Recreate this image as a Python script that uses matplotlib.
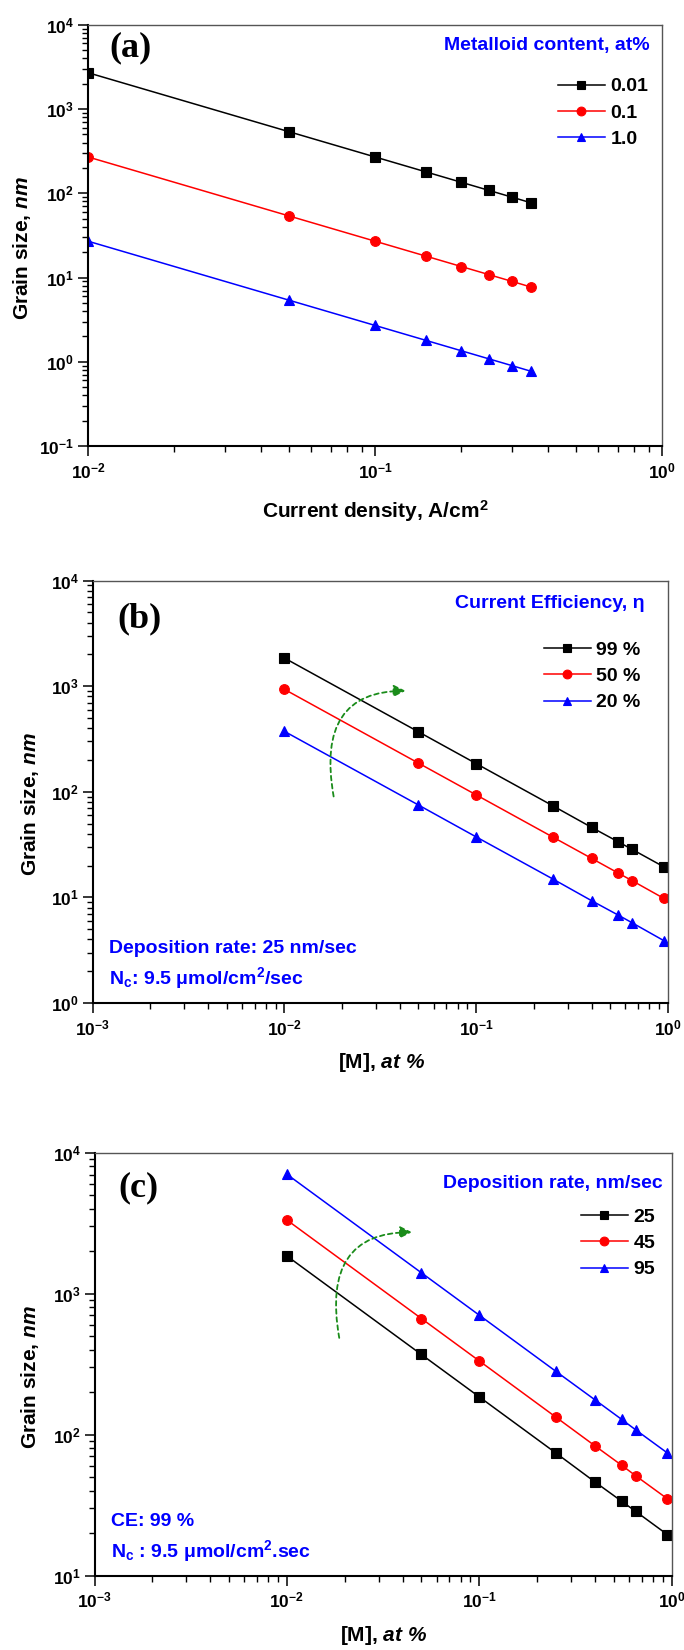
import matplotlib
matplotlib.use('Agg')
import matplotlib.pyplot as plt
from matplotlib.ticker import LogLocator, FuncFormatter, NullFormatter
from matplotlib.font_manager import FontProperties
import numpy as np

# ---------------- data ----------------
# panel (a): grain size vs current density for metalloid contents
current_density = [0.01, 0.05, 0.1, 0.15, 0.2, 0.25, 0.3, 0.35]
gs_a_001 = [2700, 540, 270, 180, 135, 108, 90, 77]
gs_a_01 = [270, 54, 27, 18, 13.5, 10.8, 9.0, 7.7]
gs_a_10 = [27, 5.4, 2.7, 1.8, 1.35, 1.08, 0.90, 0.77]
labels_a = ['0.01', '0.1', '1.0']

# panel (b): grain size vs [M] for current efficiencies
metal_at = [0.01, 0.05, 0.1, 0.25, 0.4, 0.55, 0.65, 0.95]
gs_b_99 = [1850, 370, 185, 74, 46, 33.6, 28.5, 19.5]
gs_b_50 = [935, 187, 93.5, 37.4, 23.4, 17.0, 14.4, 9.8]
gs_b_20 = [374, 75, 37.4, 15.0, 9.3, 6.8, 5.75, 3.9]
labels_b = ['99 %', '50 %', '20 %']

# panel (c): grain size vs [M] for deposition rates
gs_c_25 = [1850, 370, 185, 74, 46, 33.6, 28.5, 19.5]
gs_c_45 = [3330, 666, 333, 133, 83, 60.5, 51, 35]
gs_c_95 = [7030, 1406, 703, 281, 176, 128, 108, 74]
labels_c = ['25', '45', '95']

# ---------------- style ----------------
plt.rcParams['font.family'] = ['Liberation Sans', 'DejaVu Sans']
plt.rcParams['font.weight'] = 'bold'
plt.rcParams['mathtext.fontset'] = 'custom'
plt.rcParams['mathtext.rm'] = 'Liberation Sans'
plt.rcParams['mathtext.bf'] = 'Liberation Sans:bold'
plt.rcParams['mathtext.it'] = 'Liberation Sans:italic'
plt.rcParams['mathtext.sf'] = 'Liberation Sans'
try:
    plt.rcParams['mathtext.bfit'] = 'Liberation Sans:bold:italic'
    BFIT = True
except Exception:
    BFIT = False

BLUE = '#0000ff'
RED = '#ff0000'
BLACK = '#000000'
GREEN = '#1a8c1a'

W, H = 684, 1650
fig = plt.figure(figsize=(W / 100, H / 100), dpi=100)
fig.patch.set_facecolor('white')


def add_axes(l, r, t, b):
    return fig.add_axes([l / W, 1 - b / H, (r - l) / W, (b - t) / H])


def fmt_exp(v, pos):
    if v <= 0:
        return ''
    e = int(round(np.log10(v)))
    return r'$\mathbf{10}^{\mathrm{%d}}$' % e


def style(ax, xlim, ylim):
    ax.set_xscale('log')
    ax.set_yscale('log')
    ax.set_xlim(*xlim)
    ax.set_ylim(*ylim)
    for s in ['left', 'bottom']:
        ax.spines[s].set_linewidth(1.5)
        ax.spines[s].set_color('black')
    for s in ['top', 'right']:
        ax.spines[s].set_linewidth(1.0)
        ax.spines[s].set_color('#555555')
    for axis in (ax.xaxis, ax.yaxis):
        axis.set_major_locator(LogLocator(base=10, numticks=12))
        axis.set_minor_locator(LogLocator(base=10, subs=np.arange(2, 10), numticks=12))
        axis.set_major_formatter(FuncFormatter(fmt_exp))
        axis.set_minor_formatter(NullFormatter())
    ax.tick_params(which='major', direction='out', length=7, width=1.1,
                   labelsize=12.5, top=False, right=False)
    ax.tick_params(which='minor', direction='out', length=4, width=1.0,
                   top=False, right=False)
    ax.tick_params(axis='x', which='major', pad=4)
    ax.tick_params(axis='y', which='major', pad=3)


def ylabel(ax, xpos):
    if BFIT:
        ax.set_ylabel(r'Grain size, $\mathbfit{nm}$', fontsize=15, fontweight='bold')
    else:
        ax.set_ylabel(r'Grain size, $\mathit{nm}$', fontsize=15, fontweight='bold')
    ax.yaxis.set_label_coords(xpos, 0.47)
    ax.yaxis.label.set_va('center')


def mlabel(ax, ypos):
    if BFIT:
        ax.set_xlabel(r'[M], $\mathbfit{at\ \%}$', fontsize=15, fontweight='bold')
    else:
        ax.set_xlabel(r'[M], $\mathit{at\ \%}$', fontsize=15, fontweight='bold')
    ax.xaxis.set_label_coords(0.502, ypos)
    ax.xaxis.label.set_va('center')


leg_font = FontProperties(family='Liberation Sans', weight='bold', size=14)
series_style = [dict(color=BLACK, marker='s'),
                dict(color=RED, marker='o'),
                dict(color=BLUE, marker='^')]


def draw_series(ax, x, ys, labels):
    for y, lab, st in zip(ys, labels, series_style):
        ax.plot(x, y, lw=1.1, ms=7, markeredgewidth=0.8, label=lab, **st)


def legend(ax, x0, y0):
    ax.legend(loc='upper left', bbox_to_anchor=(x0, y0), frameon=False,
              borderpad=0, borderaxespad=0, handlelength=2.4,
              handletextpad=0.3, labelspacing=0.45, prop=leg_font,
              markerscale=0.9)


def arrow(ax, start, end):
    ax.annotate('', xy=end, xytext=start, xycoords='axes fraction',
                textcoords='axes fraction',
                arrowprops=dict(arrowstyle='-|>,head_length=0.6,head_width=0.3',
                                color=GREEN, lw=1.3, linestyle=(0, (2.5, 2)),
                                connectionstyle='angle3,angleA=100,angleB=0',
                                shrinkA=0, shrinkB=0, mutation_scale=12))


def panel_label(ax, x, y, s):
    ax.text(x, y, s, transform=ax.transAxes, fontfamily='Liberation Serif',
            fontweight='bold', fontsize=26, va='center', ha='left')


def blue_text(ax, x, y, s, ha='left'):
    ax.text(x, y, s, transform=ax.transAxes, color=BLUE, fontsize=14,
            fontweight='bold', va='center', ha=ha)


# ---------------- panel (a) ----------------
ax1 = add_axes(88, 662, 24.8, 446)
style(ax1, (0.01, 1), (0.1, 1e4))
draw_series(ax1, current_density, [gs_a_001, gs_a_01, gs_a_10], labels_a)
legend(ax1, 0.819, 0.874)
blue_text(ax1, 0.979, 0.952, 'Metalloid content, at%', ha='right')
panel_label(ax1, 0.037, 0.945, '(a)')
ylabel(ax1, -0.115)
ax1.set_xlabel(r'Current density, A/cm$^{\mathbf{2}}$', fontsize=15, fontweight='bold')
ax1.xaxis.set_label_coords(0.5, -0.154)
ax1.xaxis.label.set_va('center')

# ---------------- panel (b) ----------------
ax2 = add_axes(92.5, 668, 580.6, 1003)
style(ax2, (0.001, 1), (1, 1e4))
draw_series(ax2, metal_at, [gs_b_99, gs_b_50, gs_b_20], labels_b)
legend(ax2, 0.7845, 0.857)
blue_text(ax2, 0.960, 0.945, 'Current Efficiency, η', ha='right')
panel_label(ax2, 0.044, 0.909, '(b)')
blue_text(ax2, 0.029, 0.128, 'Deposition rate: 25 nm/sec')
blue_text(ax2, 0.029, 0.059, r'N$_{\mathbf{c}}$: 9.5 μmol/cm$^{\mathbf{2}}$/sec')
arrow(ax2, (0.419, 0.489), (0.544, 0.739))
ylabel(ax2, -0.108)
mlabel(ax2, -0.142)

# ---------------- panel (c) ----------------
ax3 = add_axes(94.5, 671.7, 1152.7, 1575.5)
style(ax3, (0.001, 1), (10, 1e4))
draw_series(ax3, metal_at, [gs_c_25, gs_c_45, gs_c_95], labels_c)
legend(ax3, 0.843, 0.869)
blue_text(ax3, 0.985, 0.926, 'Deposition rate, nm/sec', ha='right')
panel_label(ax3, 0.041, 0.917, '(c)')
blue_text(ax3, 0.029, 0.127, 'CE: 99 %')
blue_text(ax3, 0.029, 0.058, r'N$_{\mathbf{c}}$ : 9.5 μmol/cm$^{\mathbf{2}}$.sec')
arrow(ax3, (0.424, 0.562), (0.550, 0.812))
ylabel(ax3, -0.111)
mlabel(ax3, -0.143)

fig.savefig('out.png', dpi=100, facecolor='white')
